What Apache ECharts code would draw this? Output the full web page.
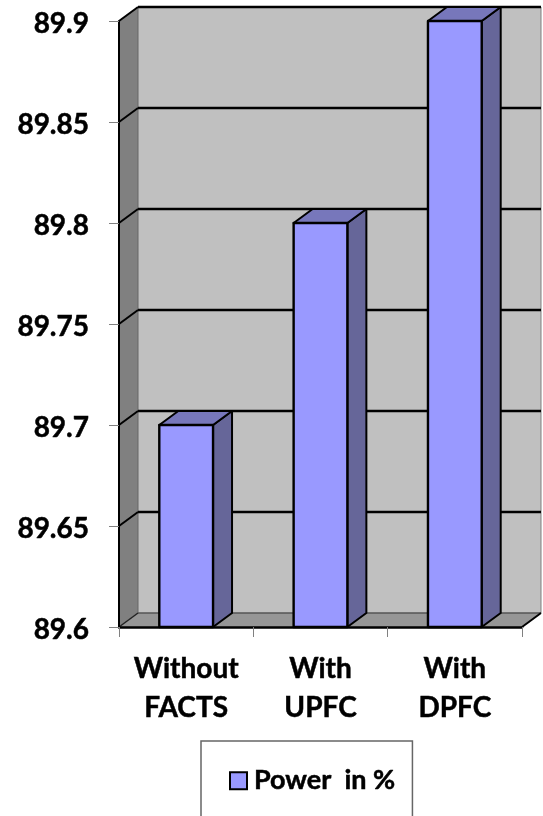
<!DOCTYPE html>
<html>
<head>
<meta charset="utf-8">
<style>html,body{margin:0;padding:0;background:#fff}#chart{width:543px;height:816px}</style>
<script src="https://cdn.jsdelivr.net/npm/echarts@6/dist/echarts.min.js"></script>
</head>
<body>
<div id="chart"></div>
<script>
const categories = ['Without\nFACTS', 'With\nUPFC', 'With\nDPFC'];
const powerValues = [89.7, 89.8, 89.9];
const yTicks = [89.6, 89.65, 89.7, 89.75, 89.8, 89.85, 89.9];
const seriesName = 'Power  in %';

// Oblique offset of the extruded 3D look, in pixels
const DEPTH_X = 19;
const DEPTH_Y = -14;
const BAR_RATIO = 0.4;

const COLORS = {
  face: '#9999ff', side: '#666699', top: '#7777bb',
  backWall: '#c0c0c0', sideWall: '#808080', floor: '#969696'
};
const FONT = 'Lato, "Open Sans", sans-serif';
// Shared heavy label look
const LABEL_TEXT = {
  fontFamily: FONT, fontWeight: 'bold', color: '#000',
  textBorderColor: '#000', textBorderWidth: 0.5
};

function poly(points, fill, stroke, width) {
  return {
    type: 'polygon',
    shape: { points },
    style: { fill, stroke: stroke || null, lineWidth: width || 0, lineJoin: 'round' }
  };
}
function seg(x1, y1, x2, y2, stroke, width) {
  return {
    type: 'line',
    shape: { x1, y1, x2, y2 },
    style: { stroke, lineWidth: width, fill: null }
  };
}

// Side wall, back wall, floor and gridlines behind the bars
function renderWalls(params, api) {
  const c = params.coordSys;
  const l = c.x, r = c.x + c.width, t = c.y, b = c.y + c.height;
  const dx = DEPTH_X, dy = DEPTH_Y;
  const children = [
    poly([[l + dx, t + dy], [r + dx, t + dy], [r + dx, b + dy], [l + dx, b + dy]], COLORS.backWall),
    poly([[l, t], [l + dx, t + dy], [l + dx, b + dy], [l, b]], COLORS.sideWall),
    poly([[l, b], [l + dx, b + dy], [r + dx, b + dy], [r, b]], COLORS.floor),
    seg(l + dx, t + dy, l + dx, b + dy, '#666666', 1),
    seg(r + dx, t + dy, r + dx, b + dy, '#808080', 1),
    seg(l + dx, b + dy, r + dx, b + dy, '#555555', 1.5),
    seg(l, b, l + dx, b + dy, '#222222', 1.5),
    seg(r, b, r + dx, b + dy, '#000000', 2)
  ];
  yTicks.forEach(function (v) {
    if (v === yTicks[0]) return;
    const y = api.coord([0, v])[1];
    children.push(seg(l, y, l + dx, y + dy, '#000000', 2));
    children.push(seg(l + dx, y + dy, r + dx, y + dy, '#000000', 2.4));
  });
  return { type: 'group', children };
}

// One extruded bar: side, top and front faces
function renderBar(params, api) {
  const top = api.coord([api.value(0), api.value(1)]);
  const base = api.coord([api.value(0), yTicks[0]]);
  const w = api.size([1, 0])[0] * BAR_RATIO;
  const x0 = top[0] - w / 2, x1 = top[0] + w / 2;
  const yt = top[1], yb = base[1];
  const dx = DEPTH_X, dy = DEPTH_Y;
  return {
    type: 'group',
    children: [
      poly([[x1, yt], [x1 + dx, yt + dy], [x1 + dx, yb + dy], [x1, yb]], COLORS.side, '#000', 2),
      poly([[x0, yt], [x0 + dx, yt + dy], [x1 + dx, yt + dy], [x1, yt]], COLORS.top, '#000', 2),
      poly([[x0, yt], [x1, yt], [x1, yb], [x0, yb]], COLORS.face, '#000', 2.4)
    ]
  };
}

const chart = echarts.init(document.getElementById('chart'), null, { renderer: 'canvas' });
chart.setOption({
  animation: false,
  backgroundColor: '#ffffff',
  grid: { left: 119, right: 21, top: 21, bottom: 189, containLabel: false },
  legend: {
    left: 201,
    top: 741,
    padding: [26, 17, 60, 28],
    backgroundColor: '#ffffff',
    borderColor: '#666666',
    borderWidth: 1.5,
    borderRadius: 0,
    itemWidth: 17,
    itemHeight: 17,
    itemGap: 0,
    selectedMode: false,
    textStyle: Object.assign({}, LABEL_TEXT, { fontSize: 27, padding: [0, 0, 0, 2] }),
    data: [{
      name: seriesName,
      icon: 'rect',
      itemStyle: { color: COLORS.face, borderColor: '#000', borderWidth: 2 }
    }]
  },
  xAxis: {
    type: 'category',
    data: categories,
    z: 10,
    axisLine: { show: true, lineStyle: { color: '#000', width: 2.5 } },
    axisTick: { show: true, length: 10, alignWithLabel: false, lineStyle: { color: '#808080', width: 1 } },
    axisLabel: Object.assign({}, LABEL_TEXT, {
      fontSize: 28, lineHeight: 39, margin: 22, interval: 0
    })
  },
  yAxis: {
    type: 'value',
    min: 89.6,
    max: 89.9,
    interval: 0.05,
    z: 10,
    splitLine: { show: false },
    axisLine: { show: true, lineStyle: { color: '#000', width: 2 } },
    axisTick: { show: true, length: 10, lineStyle: { color: '#808080', width: 1 } },
    axisLabel: Object.assign({}, LABEL_TEXT, {
      fontSize: 28, margin: 30, verticalAlign: 'top', lineHeight: 6
    })
  },
  series: [
    {
      type: 'custom',
      silent: true,
      z: 1,
      renderItem: renderWalls,
      data: [[0, yTicks[0]]],
      encode: { x: 0, y: 1 }
    },
    {
      type: 'custom',
      name: seriesName,
      z: 2,
      renderItem: renderBar,
      itemStyle: { color: COLORS.face },
      data: powerValues.map(function (v, i) { return [i, v]; }),
      encode: { x: 0, y: 1 }
    }
  ]
});
</script>
</body>
</html>
